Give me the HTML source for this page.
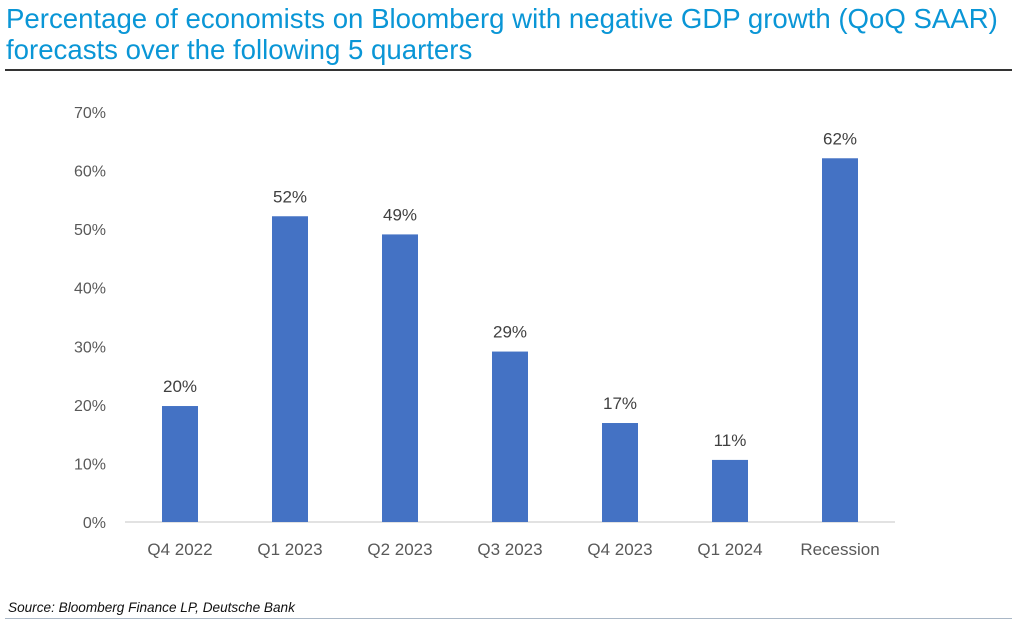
<!DOCTYPE html>
<html><head><meta charset="utf-8"><style>
body{margin:0;width:1012px;height:621px;background:#fff;overflow:hidden;position:relative;font-family:"Liberation Sans",sans-serif}
#title{position:absolute;left:6px;top:3px;color:#0a96d6;font-size:27.6px;line-height:31px;margin:0;font-weight:normal;white-space:nowrap}
#rule{position:absolute;left:5px;top:69px;width:1007px;height:2px;background:#333}
#src{position:absolute;left:8px;top:600px;font-size:13.6px;font-style:italic;color:#111}
#brule{position:absolute;left:5px;top:618px;width:1007px;height:1px;background:#a9b7c6}
</style></head><body>
<h1 id="title">Percentage of economists on Bloomberg with negative GDP growth (QoQ SAAR)<br>forecasts over the following 5 quarters</h1>
<div id="rule"></div>
<svg id="chart" width="1012" height="621" style="position:absolute;left:0;top:0"></svg>
<div id="src">Source: Bloomberg Finance LP, Deutsche Bank</div>
<div id="brule"></div>
<script>
const categories=["Q4 2022","Q1 2023","Q2 2023","Q3 2023","Q4 2023","Q1 2024","Recession"];
const values=[19.8,52.2,49.1,29.1,16.9,10.6,62.1];
const valueLabels=["20%","52%","49%","29%","17%","11%","62%"];
const yTicks=[0,10,20,30,40,50,60,70];
const NS="http://www.w3.org/2000/svg";
const svg=document.getElementById('chart');
const y0=522,y70=112,x0=125,step=110,firstC=180,bw=36;
const y=v=>y0-(v/70)*(y0-y70);
const xc=i=>firstC+i*step;
function mk(t,a){const e=document.createElementNS(NS,t);for(const k in a)e.setAttribute(k,a[k]);svg.appendChild(e);return e;}
yTicks.forEach(t=>{
 const e=mk('text',{x:106,y:y(t)+6,'text-anchor':'end','font-size':'16','fill':'#595959','font-family':'Liberation Sans, sans-serif'});
 e.textContent=t+'%';
 
 
});
const ax=mk('line',{x1:x0,x2:895,y1:y0,y2:y0,stroke:'#d9d9d9','stroke-width':1.5});


categories.forEach((c,i)=>{
 const r=mk('rect',{x:xc(i)-bw/2,y:y(values[i]),width:bw,height:y0-y(values[i]),fill:'#4472c4'});
 
 
 const l=mk('text',{x:xc(i),y:y(values[i])-14,'text-anchor':'middle','font-size':'17','fill':'#404040','font-family':'Liberation Sans, sans-serif'});
 l.textContent=valueLabels[i];
 
 
 const t=mk('text',{x:xc(i),y:555,'text-anchor':'middle','font-size':'17','fill':'#595959','font-family':'Liberation Sans, sans-serif'});
 t.textContent=c;
 
 
});
</script>
</body></html>
